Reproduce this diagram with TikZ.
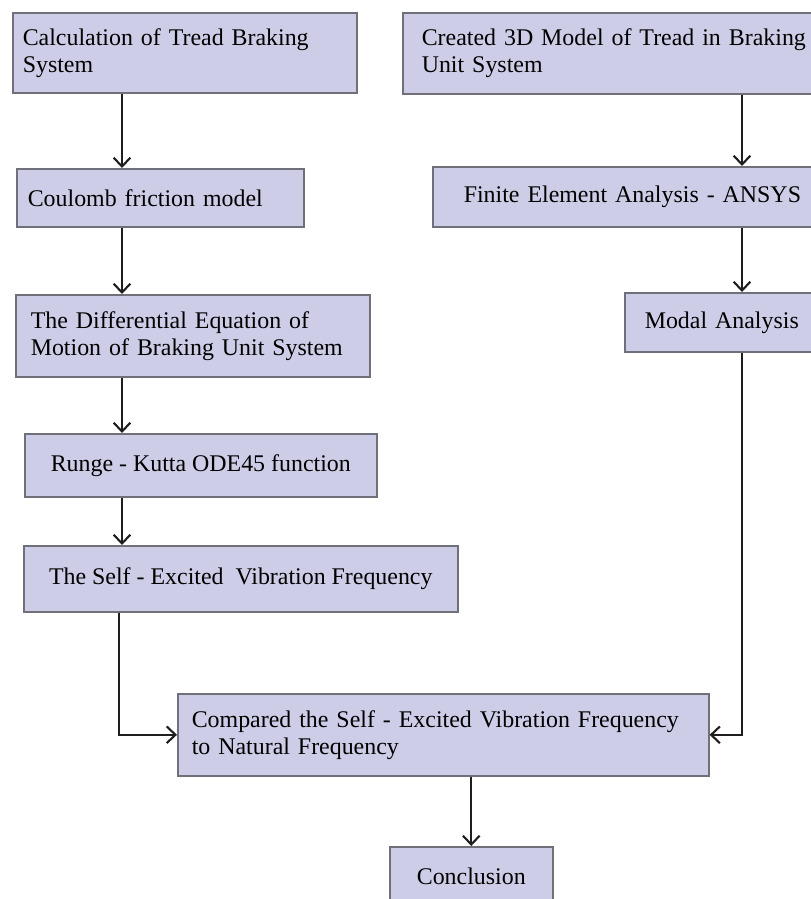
\documentclass[tikz,border=0pt]{standalone}
\usepackage{fontspec}
\setmainfont{Liberation Serif}
\usetikzlibrary{arrows.meta, positioning, calc}
\definecolor{boxfill}{RGB}{205,205,232}
\definecolor{boxline}{RGB}{112,112,122}
\definecolor{flowline}{RGB}{30,30,30}

\tikzset{
  stage/.style={draw=boxline, fill=boxfill, line width=0.9pt, anchor=north west,
                inner ysep=0pt, font=\fontsize{13.6}{15.4}\selectfont},
  leftstage/.style={stage, align=left},
  midstage/.style={stage, align=center, inner xsep=0pt},
  flow/.style={draw=flowline, line width=1.2pt,
               -{Straight Barb[length=5pt, width=9.5pt, line width=1.2pt]}},
}

\begin{document}
\begin{tikzpicture}
  \clip (0,0) rectangle (16.22,-17.98);
  \useasboundingbox (0,0) rectangle (16.22,-17.98);

  % left column
  \node[leftstage, minimum height=1.60cm, inner xsep=0.20cm, text width=6.48cm]
    (calc) at (0.24,-0.24) {Calculation of Tread Braking\\System};
  \node[leftstage, minimum height=1.16cm, inner xsep=0.22cm, text width=5.30cm]
    (coulomb) at (0.32,-3.36) {Coulomb friction model};
  \node[leftstage, minimum height=1.64cm, inner xsep=0.30cm, text width=6.48cm]
    (diffeq) at (0.30,-5.88) {The Differential Equation of\\Motion of Braking Unit System};
  \node[midstage, minimum width=7.04cm, minimum height=1.26cm]
    (runge) at (0.48,-8.66) {Runge - Kutta ODE45 function};
  \node[midstage, minimum width=8.68cm, minimum height=1.32cm]
    (selfex) at (0.46,-10.90) {The Self - Excited\ \ Vibration Frequency};

  % right column
  \node[leftstage, minimum height=1.62cm, inner xsep=0.38cm, text width=8.04cm]
    (model) at (8.04,-0.24) {Created 3D Model of Tread in Braking\\Unit System};
  \node[leftstage, minimum height=1.20cm, inner xsep=0.62cm, text width=7.16cm]
    (fea) at (8.64,-3.32) {Finite Element Analysis - ANSYS};
  \node[leftstage, minimum height=1.18cm, inner xsep=0.40cm, text width=3.40cm]
    (modal) at (12.48,-5.84) {Modal Analysis};

  % bottom
  \node[leftstage, minimum height=1.64cm, inner xsep=0.28cm, text width=10.06cm]
    (compare) at (3.54,-13.86) {Compared the Self - Excited Vibration Frequency\\to Natural Frequency};
  \node[midstage, minimum width=3.26cm, minimum height=1.20cm]
    (concl) at (7.78,-16.92) {Conclusion};

  % arrow columns
  \coordinate (lcol) at (2.44,0);
  \coordinate (rcol) at (14.84,0);
  \coordinate (bend) at (2.38,0);

  \foreach \a/\b in {calc/coulomb, coulomb/diffeq, diffeq/runge, runge/selfex}
    \draw[flow] (\a.south -| lcol) -- (\b.north -| lcol);
  \foreach \a/\b in {model/fea, fea/modal}
    \draw[flow] (\a.south -| rcol) -- (\b.north -| rcol);

  \draw[flow] (selfex.south -| bend) |- (compare.west);
  \draw[flow] (modal.south -| rcol) |- (compare.east);
  \draw[flow] (compare.south -| concl.north) -- (concl.north);
\end{tikzpicture}
\end{document}
